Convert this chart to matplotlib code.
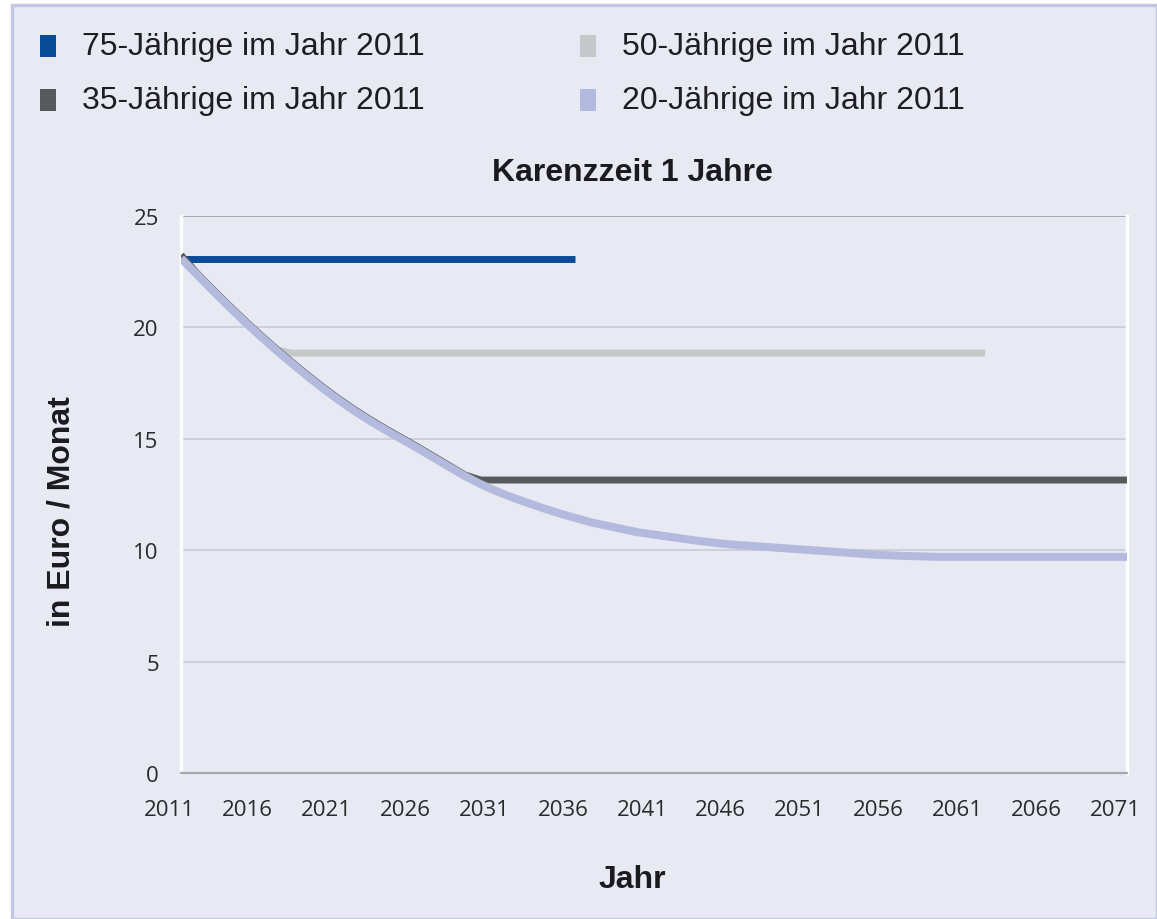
import matplotlib
matplotlib.use("Agg")
import matplotlib.pyplot as plt
from matplotlib.patches import Rectangle
from matplotlib.transforms import ScaledTranslation

# ---------------- data ----------------
series_labels = ["75-Jährige im Jahr 2011", "50-Jährige im Jahr 2011",
                 "35-Jährige im Jahr 2011", "20-Jährige im Jahr 2011"]

years_75 = list(range(2011, 2037))
values_75 = [23.05, 23.05, 23.05, 23.05, 23.05, 23.05, 23.05, 23.05, 23.05,
             23.05, 23.05, 23.05, 23.05, 23.05, 23.05, 23.05, 23.05, 23.05,
             23.05, 23.05, 23.05, 23.05, 23.05, 23.05, 23.05, 23.05]

years_50 = list(range(2011, 2063))
values_50 = [23.1, 22.38, 21.66, 20.96, 20.28, 19.63, 19.0,
             18.85, 18.85, 18.85, 18.85, 18.85, 18.85, 18.85, 18.85, 18.85,
             18.85, 18.85, 18.85, 18.85, 18.85, 18.85, 18.85, 18.85, 18.85,
             18.85, 18.85, 18.85, 18.85, 18.85, 18.85, 18.85, 18.85, 18.85,
             18.85, 18.85, 18.85, 18.85, 18.85, 18.85, 18.85, 18.85, 18.85,
             18.85, 18.85, 18.85, 18.85, 18.85, 18.85, 18.85, 18.85, 18.85]

years_35 = list(range(2011, 2072))
values_35 = [23.25, 22.44, 21.72, 21.02, 20.34, 19.69, 19.06, 18.46, 17.88,
             17.32, 16.8, 16.31, 15.86, 15.44, 15.04, 14.64, 14.22, 13.8,
             13.38, 13.15, 13.15, 13.15, 13.15, 13.15, 13.15, 13.15, 13.15,
             13.15, 13.15, 13.15, 13.15, 13.15, 13.15, 13.15, 13.15, 13.15,
             13.15, 13.15, 13.15, 13.15, 13.15, 13.15, 13.15, 13.15, 13.15,
             13.15, 13.15, 13.15, 13.15, 13.15, 13.15, 13.15, 13.15, 13.15,
             13.15, 13.15, 13.15, 13.15, 13.15, 13.15, 13.15]

years_20 = list(range(2011, 2072))
values_20 = [23.1, 22.38, 21.66, 20.96, 20.28, 19.63, 19.0, 18.4, 17.82,
             17.26, 16.74, 16.25, 15.8, 15.38, 14.98, 14.58, 14.16, 13.74,
             13.33, 12.97, 12.65, 12.37, 12.12, 11.88, 11.65, 11.45, 11.25,
             11.1, 10.95, 10.8, 10.7, 10.6, 10.5, 10.4, 10.32, 10.25,
             10.2, 10.15, 10.1, 10.05, 10.0, 9.95, 9.9, 9.85, 9.8, 9.77,
             9.74, 9.72, 9.7, 9.7, 9.7, 9.7, 9.7, 9.7, 9.7, 9.7, 9.7,
             9.7, 9.7, 9.7, 9.7]

x_ticks = list(range(2011, 2072, 5))
y_ticks = [0, 5, 10, 15, 20, 25]

colors = ["#0A4B98", "#C6C9C9", "#57595B", "#B3BADD"]

# ---------------- figure ----------------
BG = "#E8EAF3"
fig = plt.figure(figsize=(11.57, 9.2), dpi=100, facecolor="white")
fig.add_artist(Rectangle((12 / 1157, 0), 1 - 12 / 1157, 1 - 6 / 920,
                         transform=fig.transFigure, facecolor=BG,
                         edgecolor="#C3C8E2", linewidth=2.5, zorder=0))

ax = fig.add_axes([181 / 1157, 1 - 774 / 920, (1127 - 181) / 1157,
                   (774 - 217) / 920])
ax.set_facecolor(BG)

lw = 5.0
ax.plot(years_75, values_75, color=colors[0], lw=lw, solid_capstyle="butt", zorder=3)
ax.plot(years_50, values_50, color=colors[1], lw=lw, solid_capstyle="butt", zorder=4)
ax.plot(years_35, values_35, color=colors[2], lw=lw, solid_capstyle="butt", zorder=5)
ax.plot(years_20, values_20, color=colors[3], lw=5.8, solid_capstyle="butt", zorder=6)

ax.set_xlim(2011, 2071)
ax.set_ylim(0, 25)
ax.set_xticks(x_ticks)
ax.set_yticks(y_ticks)

for y in y_ticks[1:]:
    ax.axhline(y, color="#A9ABB2" if y == 25 else "#CDD0D8", lw=1.4, zorder=1)

ax.spines["top"].set_visible(False)
ax.spines["left"].set_color("white")
ax.spines["left"].set_linewidth(2.5)
ax.spines["right"].set_color("white")
ax.spines["right"].set_linewidth(2.5)
ax.spines["bottom"].set_color("#A5A7AE")
ax.spines["bottom"].set_linewidth(1.6)

ax.tick_params(axis="both", length=0)
ax.tick_params(axis="x", pad=19)
ax.tick_params(axis="y", pad=16)
shift = ScaledTranslation(-12 / 100, 0, fig.dpi_scale_trans)
for lab in ax.get_xticklabels():
    lab.set_transform(lab.get_transform() + shift)
for lab in ax.get_xticklabels() + ax.get_yticklabels():
    lab.set_fontfamily("Open Sans")
    lab.set_fontsize(16)
    lab.set_color("#2A2A2A")

ax.set_title("Karenzzeit 1 Jahre", fontfamily="Liberation Sans",
             fontweight="bold", fontsize=23, color="#1B1B1F", pad=26,
             x=(632 - 181) / 946)
ax.set_xlabel("Jahr", fontfamily="Liberation Sans", fontweight="bold",
              fontsize=23, color="#1B1B1F")
ax.xaxis.label.set_va("center")
ax.xaxis.set_label_coords((632 - 181) / 946, (774 - 880) / 557)
ax.set_ylabel("in Euro / Monat", fontfamily="Liberation Sans",
              fontweight="bold", fontsize=23, color="#1B1B1F")
ax.yaxis.label.set_va("center")
ax.yaxis.set_label_coords((62 - 181) / 946, (774 - 512) / 557)

# ---------------- legend (row-wise, 2 columns) ----------------
leg_pos = [(40, 47), (580, 47), (40, 101), (580, 101)]
for (px, py), lab, col in zip(leg_pos, series_labels, colors):
    fig.add_artist(Rectangle((px / 1157, 1 - (py + 11) / 920), 16 / 1157,
                             22 / 920, transform=fig.transFigure,
                             facecolor=col, edgecolor="none", zorder=2))
    fig.text((px + 42) / 1157, 1 - py / 920, lab, fontfamily="Liberation Sans",
             fontsize=23, color="#1E1E22", va="center", ha="left")

fig.savefig("out.png", dpi=100, facecolor=fig.get_facecolor())
